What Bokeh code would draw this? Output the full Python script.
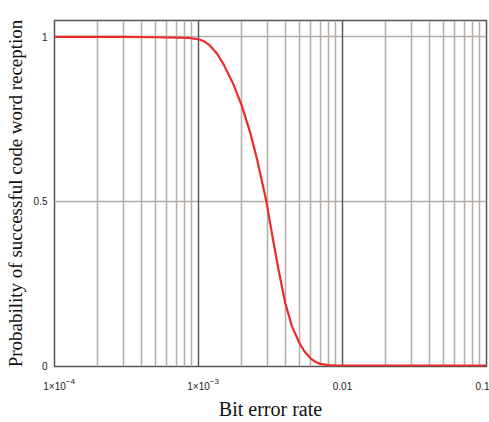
from bokeh.plotting import figure
from bokeh.models import FixedTicker, Grid, Range1d, LogAxis
from bokeh.embed import file_html
from bokeh.resources import INLINE

# Data
ber = [1e-4, 3e-4, 5e-4, 7e-4, 8.5e-4, 1e-3, 1.1e-3, 1.2e-3, 1.35e-3, 1.5e-3,
       1.75e-3, 2e-3, 2.3e-3, 2.55e-3, 2.9e-3, 3e-3, 3.25e-3, 3.6e-3, 4e-3,
       4.45e-3, 5e-3, 5.4e-3, 6e-3, 6.5e-3, 7e-3, 8e-3, 9e-3, 0.01, 0.1]
prob = [1.0, 1.0, 0.999, 0.998, 0.997, 0.993, 0.986, 0.974, 0.948, 0.915,
        0.855, 0.79, 0.705, 0.628, 0.518, 0.485, 0.397, 0.29, 0.191,
        0.12, 0.07, 0.045, 0.022, 0.011, 0.005, 0.001, 0.0, 0.0, 0.0]

x_ticks = [1e-4, 1e-3, 1e-2, 1e-1]
x_tick_labels = ["1×10", "1×10", "0.01", "0.1"]
exp_ticks = [1e-4, 1e-3]
exp_labels = ["−4", "−3"]
y_ticks = [0, 0.5, 1]
y_tick_labels = ["0", "0.5", "1"]
minor_lines = [m * d for d in [1e-4, 1e-3, 1e-2] for m in range(2, 10)]

EXP_SHIFT = 1.29  # horizontal offset of the superscript, as a log-scale factor

p = figure(width=489, height=422, x_axis_type="log",
           x_range=Range1d(1e-4, 0.1), y_range=Range1d(-0.003, 1.05),
           output_backend="svg", toolbar_location=None,
           min_border_left=54, min_border_right=3, min_border_top=20,
           min_border_bottom=20)
p.background_fill_color = "white"
p.border_fill_color = "white"
p.outline_line_color = "#555555"
p.outline_line_width = 1.5

# grids
p.xgrid.ticker = FixedTicker(ticks=minor_lines)
p.xgrid.grid_line_color = "#b3aea9"
p.xgrid.grid_line_width = 1.5
p.ygrid.ticker = FixedTicker(ticks=[0.5, 1])
p.ygrid.grid_line_color = "#b3aea9"
p.ygrid.grid_line_width = 1.5
major_grid = Grid(dimension=0, ticker=FixedTicker(ticks=x_ticks[1:3]),
                  grid_line_color="#5a5a5a", grid_line_width=1.5)
p.add_layout(major_grid)

p.line(ber, prob, line_color="#ec2b2b", line_width=2.2)

# exponent axis (closest to the frame): superscripts
sup_pos = [t * EXP_SHIFT for t in exp_ticks]
xa = p.xaxis[0]
xa.ticker = FixedTicker(ticks=sup_pos)
xa.major_label_overrides = dict(zip(sup_pos, exp_labels))
xa.major_label_text_font_size = "8px"
xa.major_label_standoff = 6

# mantissa / plain tick label axis
ma = LogAxis(ticker=FixedTicker(ticks=x_ticks),
             major_label_overrides=dict(zip(x_ticks, x_tick_labels)))
ma.major_label_text_font_size = "10px"
ma.major_label_standoff = -12
ma.axis_label = "Bit error rate"
ma.axis_label_text_font_size = "20px"
ma.axis_label_standoff = 3
p.add_layout(ma, "below")

p.yaxis.ticker = FixedTicker(ticks=y_ticks)
p.yaxis.major_label_overrides = dict(zip(y_ticks, y_tick_labels))
p.yaxis.major_label_text_font_size = "10px"
p.yaxis.axis_label = "Probability of successful code word reception"
p.yaxis.axis_label_text_font_size = "19px"
p.yaxis.major_label_standoff = 1
p.yaxis.axis_label_standoff = 5
p.yaxis.major_label_orientation = "horizontal"

for ax in (xa, ma, p.yaxis[0]):
    ax.axis_line_color = None
    ax.major_tick_line_color = None
    ax.minor_tick_line_color = None
    ax.major_label_text_font = "Liberation Sans"
    ax.major_label_text_color = "#222222"
    ax.axis_label_text_font = "Liberation Serif"
    ax.axis_label_text_font_style = "normal"
    ax.axis_label_text_color = "#111111"

open("out.html", "w").write(file_html(p, INLINE))
